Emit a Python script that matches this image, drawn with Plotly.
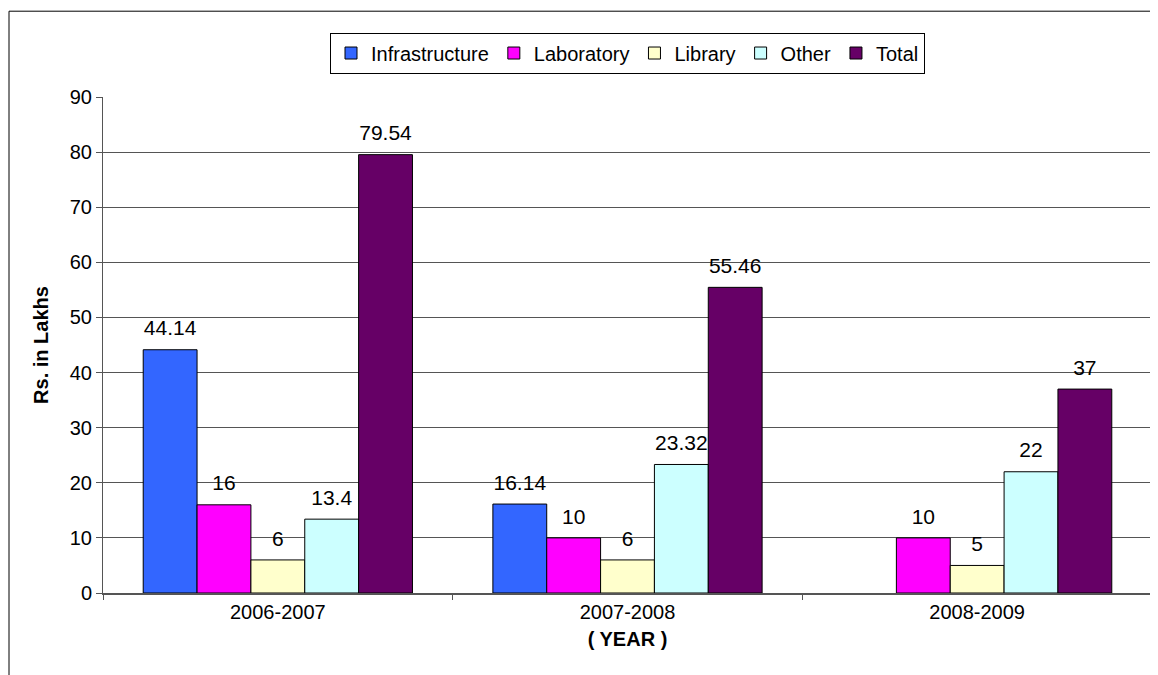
import plotly.graph_objects as go

years = ["2006-2007", "2007-2008", "2008-2009"]
infrastructure = [44.14, 16.14, None]
laboratory = [16, 10, 10]
library = [6, 6, 5]
other = [13.4, 23.32, 22]
total = [79.54, 55.46, 37]

series_names = ["Infrastructure", "Laboratory", "Library", "Other", "Total"]
series_values = [infrastructure, laboratory, library, other, total]
series_colors = ["#3366FF", "#FF00FF", "#FFFFCC", "#CCFFFF", "#660066"]

y_ticks = [0, 10, 20, 30, 40, 50, 60, 70, 80, 90]

FONT = "Liberation Sans, Arial, sans-serif"
GAP = 0.23

fig = go.Figure()
for name, vals, col in zip(series_names, series_values, series_colors):
    fig.add_trace(go.Bar(
        name=name, x=years, y=vals, offsetgroup=name,
        marker=dict(color=col, line=dict(color="#000000", width=1)),
        hoverinfo="x+y+name",
    ))
# data labels, grouped the same way as the bars
for name, vals in zip(series_names, series_values):
    fig.add_trace(go.Scatter(
        name=name, x=years, y=vals, offsetgroup=name,
        mode="markers+text", showlegend=False,
        marker=dict(size=13, opacity=0, color="#000000"),
        text=[("" if v is None else f"{v:g}") for v in vals],
        textposition="top center",
        textfont=dict(family=FONT, size=21, color="#000000"),
        cliponaxis=False, hoverinfo="skip",
    ))

fig.update_layout(
    width=1158, height=675,
    margin=dict(l=95, r=14, t=89, b=90, autoexpand=False),
    paper_bgcolor="#FFFFFF", plot_bgcolor="#FFFFFF",
    barmode="group", bargap=GAP, bargroupgap=0,
    scattermode="group", scattergap=GAP,
    font=dict(family=FONT, size=20, color="#000000"),
    showlegend=True,
    legend=dict(
        orientation="h", x=0.5, xanchor="center", y=1.13, yanchor="top",
        bordercolor="#000000", borderwidth=1, bgcolor="#FFFFFF",
        font=dict(family=FONT, size=20, color="#000000"),
        itemwidth=30, tracegroupgap=0,
    ),
)

fig.update_xaxes(
    type="category", showline=True, linecolor="#555555", linewidth=2,
    ticks="outside", tickson="boundaries", ticklen=5, tickcolor="#555555",
    tickfont=dict(family=FONT, size=20, color="#000000"),
    title=dict(text="<b>( YEAR )</b>", font=dict(family=FONT, size=20, color="#000000"), standoff=10),
    showgrid=False, automargin=True,
)
fig.update_yaxes(
    range=[0, 90], tickvals=y_ticks, ticktext=[str(t) for t in y_ticks],
    showline=True, linecolor="#555555", linewidth=1,
    ticks="outside", ticklen=6, tickcolor="#555555",
    showgrid=True, gridcolor="#555555", gridwidth=1,
    tickfont=dict(family=FONT, size=20, color="#000000"),
    title=dict(text="<b>Rs. in Lakhs</b>", font=dict(family=FONT, size=20, color="#000000")),
    zeroline=False, automargin=False,
)

# outer chart frame (top and left edges) and plot-area right border
fig.add_shape(type="line", xref="paper", yref="paper", x0=-0.0896, x1=1.06, y0=1.173, y1=1.173,
              line=dict(color="#000000", width=1))
fig.add_shape(type="line", xref="paper", yref="paper", x0=-0.0896, x1=-0.0896, y0=1.173, y1=-0.2,
              line=dict(color="#000000", width=1))
fig.add_shape(type="line", xref="paper", yref="paper", x0=1, x1=1, y0=0, y1=1,
              line=dict(color="#888888", width=2))

fig.write_html("out.html")
